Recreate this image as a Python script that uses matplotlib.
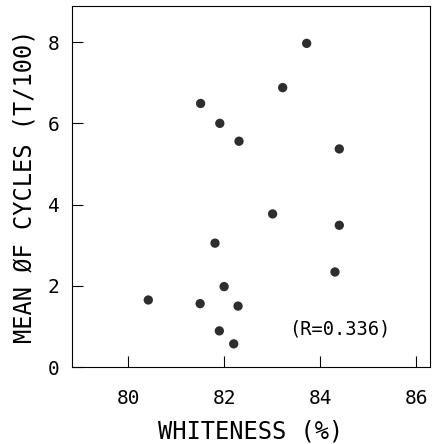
import matplotlib
matplotlib.use("Agg")
import matplotlib.pyplot as plt

# values
whiteness = [83.72, 83.22, 81.51, 81.91, 82.31, 84.40, 83.01, 84.40,
             81.81, 84.31, 82.00, 80.42, 81.50, 82.29, 81.90, 82.20]
cycles = [7.97, 6.88, 6.49, 6.00, 5.56, 5.37, 3.77, 3.49,
          3.05, 2.34, 1.98, 1.65, 1.56, 1.50, 0.89, 0.57]

x_ticks = [80, 82, 84, 86]
y_ticks = [0, 2, 4, 6, 8]

plt.rcParams["font.family"] = ["DejaVu Sans Mono"]

fig = plt.figure(figsize=(4.36, 4.44), dpi=100)
ax = fig.add_axes([72 / 436, 1 - 367 / 444, (430 - 72) / 436, (367 - 6) / 444])

ax.scatter(whiteness, cycles, s=45, color="#2e2e2e", edgecolors="none", zorder=3)

ax.set_xlim(78.83, 86.29)
ax.set_ylim(0, 8.89)
ax.set_xticks(x_ticks)
ax.set_yticks(y_ticks)
ax.tick_params(direction="in", length=8, width=0.8, labelsize=14)
ax.tick_params(axis="x", pad=16)
ax.tick_params(axis="y", pad=9)

for sp in ax.spines.values():
    sp.set_linewidth(0.8)

ax.set_xlabel("WHITENESS (%)", fontsize=17, labelpad=8)
ax.set_ylabel("MEAN ØF CYCLES (T/100)", fontsize=17, labelpad=8)

ax.text(84.4, 0.93, "(R=0.336)", fontsize=13.5, ha="center", va="center")

fig.savefig("out.png", dpi=100)
